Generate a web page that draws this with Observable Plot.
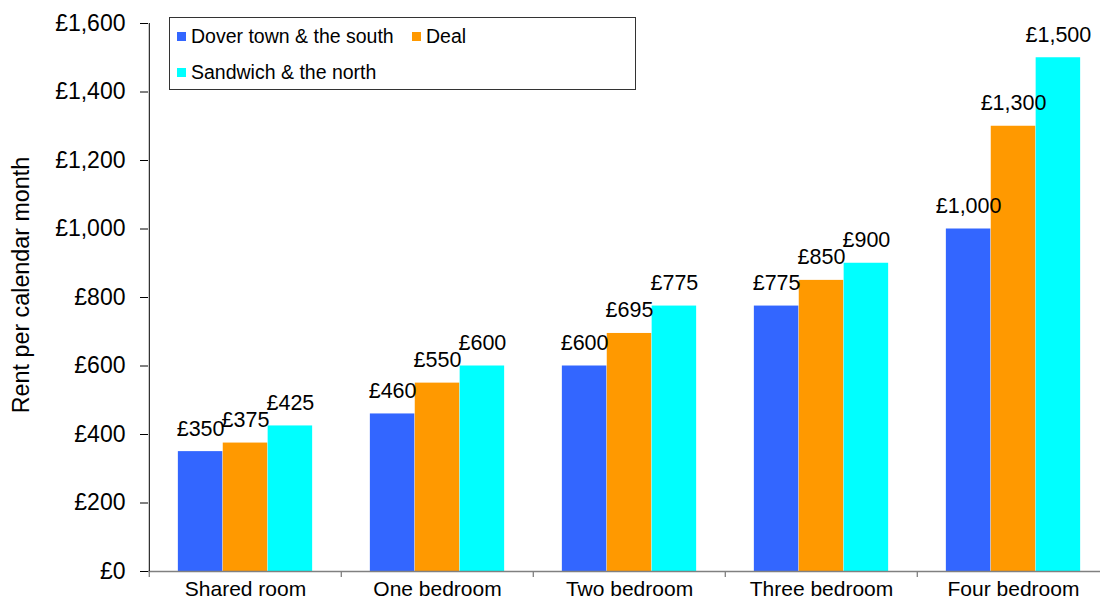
<!DOCTYPE html>
<html>
<head>
<meta charset="utf-8">
<script src="https://cdn.jsdelivr.net/npm/d3@7"></script>
<script src="https://cdn.jsdelivr.net/npm/@observablehq/plot@0.6"></script>
<style>
  html, body { margin: 0; padding: 0; background: #fff; overflow: hidden; }
  #wrap { position: relative; width: 1100px; height: 599px; overflow: hidden; }
  #wrap svg { max-width: none !important; }
  #legend { position: absolute; left: 169px; top: 17px; width: 467px; height: 73px;
            border: 1px solid #333; background: #fff; font-family: "Liberation Sans", Arial, sans-serif;
            font-size: 19.5px; color: #000; box-sizing: border-box; }
  .item { position: absolute; display: flex; align-items: center; white-space: nowrap; }
  .sw { width: 9px; height: 9px; margin-right: 5px; }
  #ytitle { position: absolute; left: 22px; top: 284.5px; transform: translate(-50%, -50%) rotate(-90deg);
            font-family: "Liberation Sans", Arial, sans-serif; font-size: 23.3px; color: #000; white-space: nowrap; line-height: 1; }
</style>
</head>
<body>
<div id="wrap"></div>
<script>
const categories = ["Shared room", "One bedroom", "Two bedroom", "Three bedroom", "Four bedroom"];
const seriesNames = ["Dover town & the south", "Deal", "Sandwich & the north"];
const dover = [350, 460, 600, 775, 1000];
const deal = [375, 550, 695, 850, 1300];
const sandwich = [425, 600, 775, 900, 1500];
const yTicks = [0, 200, 400, 600, 800, 1000, 1200, 1400, 1600];
const colors = ["#3366FF", "#FF9900", "#00FFFF"];
const yTitle = "Rent per calendar month";

const seriesValues = [dover, deal, sandwich];
const data = categories.flatMap((c, i) => seriesValues.map((arr, k) => ({category: c, series: seriesNames[k], k, value: arr[i]})));
const fmt = d => "£" + d3.format(",")(d);

const W = 1110, marginLeft = 148, marginRight = 0;
const step = (W - marginLeft - marginRight) / categories.length;
const group = 0.7;
const barW = step * group / seriesNames.length;
const font = "Liberation Sans, Arial, sans-serif";

const marks = [
  Plot.axisY({ticks: yTicks, tickFormat: fmt, tickSize: 8, tickPadding: 15, fontSize: 23, label: null}),
  Plot.axisX({tickSize: 0, tickPadding: 10, fontSize: 21, label: null}),
];
const textMarks = [];
seriesNames.forEach((s, k) => {
  const insetLeft = step * (1 - group) / 2 + k * barW;
  const insetRight = step - insetLeft - barW;
  marks.push(Plot.barY(data.filter(d => d.k === k), {x: "category", y: "value", fill: colors[k], insetLeft, insetRight}));
  textMarks.push(Plot.text(data.filter(d => d.k === k), {x: "category", y: "value", text: d => fmt(d.value),
    dx: insetLeft + barW / 2 - step / 2, dy: -16, lineAnchor: "bottom", fontSize: 21.5, fill: "#000"}));
});
marks.push(...textMarks);
marks.push(Plot.ruleY([0], {stroke: "#808080", strokeWidth: 1.3}));
marks.push(Plot.ruleX(categories, {x: d => d, y1: 0, y2: 0, insetBottom: -6, dx: -step / 2, stroke: "#808080", strokeWidth: 1.3}));
marks.push(Plot.ruleX([categories[0]], {x: d => d, y1: 0, y2: 1600, dx: -step / 2, stroke: "#000"}));

const plot = Plot.plot({
  width: W, height: 599,
  marginLeft, marginRight, marginTop: 23, marginBottom: 28,
  style: {fontFamily: font, fontSize: "21px", color: "#000", background: "transparent", overflow: "visible", maxWidth: "none"},
  x: {domain: categories, padding: 0},
  y: {domain: [0, 1600]},
  marks
});
const wrap = document.getElementById("wrap");
wrap.appendChild(plot);

const yt = document.createElement("div");
yt.id = "ytitle";
yt.textContent = yTitle;
wrap.appendChild(yt);

const legend = document.createElement("div");
legend.id = "legend";
const pos = [[7, 18], [242, 18], [7, 54]];
seriesNames.forEach((s, k) => {
  const it = document.createElement("div");
  it.className = "item";
  it.style.left = pos[k][0] + "px";
  it.style.top = (pos[k][1] - 12) + "px";
  it.style.height = "24px";
  const sw = document.createElement("div");
  sw.className = "sw";
  sw.style.background = colors[k];
  const tx = document.createElement("span");
  tx.textContent = s;
  it.appendChild(sw); it.appendChild(tx);
  legend.appendChild(it);
});
wrap.appendChild(legend);
</script>
</body>
</html>
